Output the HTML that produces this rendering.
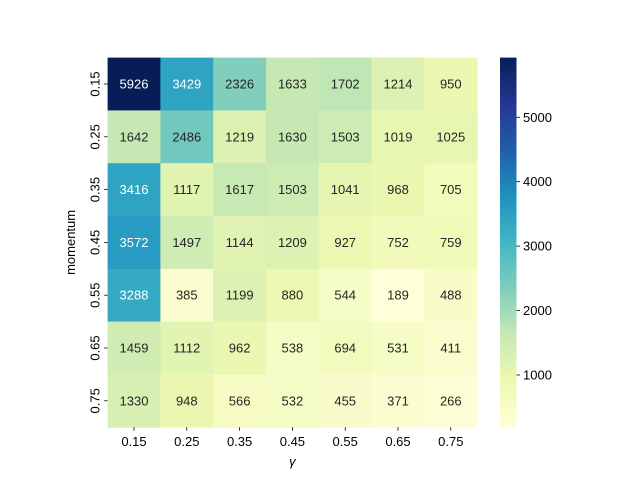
<!DOCTYPE html>
<html><head><meta charset="utf-8"><style>
body{margin:0;background:#fff}
svg{font-family:"Liberation Sans","DejaVu Sans",sans-serif;display:block}
</style></head><body>
<svg id="chart" width="640" height="480" xmlns="http://www.w3.org/2000/svg">
<defs><linearGradient id="cg" x1="0" y1="1" x2="0" y2="0"></linearGradient></defs>
<g id="cells"></g>
<g id="axes"></g>
<rect x="500" y="57.6" width="16.5" height="369.6" fill="url(#cg)"/>
<g id="cbar"></g>
<text x="292.4" y="466" font-size="13" text-anchor="middle" font-style="italic">γ</text>
<text transform="translate(75,242.4) rotate(-90)" font-size="13" text-anchor="middle">momentum</text>
</svg>
<script>
const xCats=["0.15","0.25","0.35","0.45","0.55","0.65","0.75"];
const yCats=["0.15","0.25","0.35","0.45","0.55","0.65","0.75"];
const row0=[5926,3429,2326,1633,1702,1214,950];
const row1=[1642,2486,1219,1630,1503,1019,1025];
const row2=[3416,1117,1617,1503,1041,968,705];
const row3=[3572,1497,1144,1209,927,752,759];
const row4=[3288,385,1199,880,544,189,488];
const row5=[1459,1112,962,538,694,531,411];
const row6=[1330,948,566,532,455,371,266];
const cbTicks=[1000,2000,3000,4000,5000];
const values=[row0,row1,row2,row3,row4,row5,row6];
const NS="http://www.w3.org/2000/svg";
const L=107.6,T=57.6,W=369.6,H=369.6;
const cw=W/xCats.length, ch=H/yCats.length;
const all=values.flat();
const vmin=Math.min(...all), vmax=Math.max(...all);
const anchors=["#ffffd9","#edf8b1","#c7e9b4","#7fcdbb","#41b6c4","#1d91c0","#225ea8","#253494","#081d58"].map(h=>[1,3,5].map(i=>parseInt(h.substr(i,2),16)));
function cmap(t){t=Math.max(0,Math.min(1,t));const p=t*8,i=Math.min(7,Math.floor(p)),f=p-i;return anchors[i].map((c,k)=>c+(anchors[i+1][k]-c)*f);}
function rgb(c){return `rgb(${c.map(Math.round).join(",")})`;}
function lum(c){const l=c.map(v=>{v/=255;return v<=0.03928?v/12.92:Math.pow((v+0.055)/1.055,2.4)});return 0.2126*l[0]+0.7152*l[1]+0.0722*l[2];}
const xs=i=>L+i*cw, ys=j=>T+j*ch;
const cy=v=>T+H-(v-vmin)/(vmax-vmin)*H;
function mk(tag,attrs,parent,txt){const e=document.createElementNS(NS,tag);for(const k in attrs)e.setAttribute(k,attrs[k]);if(txt!==undefined)e.textContent=txt;parent.appendChild(e);return e;}
const cells=document.getElementById("cells");
values.forEach((row,j)=>row.forEach((v,i)=>{
  const c=cmap((v-vmin)/(vmax-vmin));
  const r=mk("rect",{x:xs(i),y:ys(j),width:cw+0.5,height:ch+0.5,fill:rgb(c)},cells);
  
  
  const t=mk("text",{x:xs(i)+cw/2,y:ys(j)+ch/2+4.5,"font-size":13,"text-anchor":"middle",fill:lum(c)>0.408?"#262626":"#ffffff"},cells,String(v));
  
  
}));
const ax=document.getElementById("axes");
xCats.forEach((c,i)=>{const x=xs(i)+cw/2;
  const l=mk("line",{x1:x,x2:x,y1:T+H,y2:T+H+3.5,stroke:"#000","stroke-width":0.8},ax);
  
  
  const t=mk("text",{x:x,y:T+H+19,"font-size":13,"text-anchor":"middle"},ax,c);
  
  
});
yCats.forEach((c,j)=>{const y=ys(j)+ch/2;
  const l=mk("line",{x1:L-3.5,x2:L,y1:y,y2:y,stroke:"#000","stroke-width":0.8},ax);
  
  
  const t=mk("text",{transform:`translate(${L-8},${y}) rotate(-90)`,"font-size":13,"text-anchor":"middle"},ax,c);
  
  
});
const g=document.getElementById("cg");
for(let k=0;k<=16;k++){mk("stop",{offset:k/16,"stop-color":rgb(cmap(k/16))},g);}
const cb=document.getElementById("cbar");
cbTicks.forEach(v=>{const y=cy(v);
  const l=mk("line",{x1:516.5,x2:520,y1:y,y2:y,stroke:"#000","stroke-width":0.8},cb);
  
  
  const t=mk("text",{x:523,y:y+4.5,"font-size":13},cb,String(v));
  
  
});
</script>
</body></html>
